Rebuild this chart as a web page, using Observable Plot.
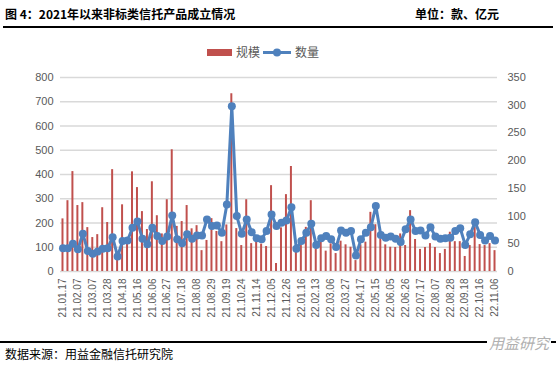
<!DOCTYPE html>
<html>
<head>
<meta charset="utf-8">
<script src="https://cdn.jsdelivr.net/npm/d3@7"></script>
<script src="https://cdn.jsdelivr.net/npm/@observablehq/plot@0.6"></script>
<style>
  body { margin: 0; background: #fff; }
  #wrap { position: relative; width: 556px; height: 369px; overflow: hidden; background: #fff;
          font-family: "Noto Sans CJK SC", "Noto Sans", sans-serif; }
  .title { position: absolute; left: 5px; top: 7px; font-size: 12px; line-height: 14px; font-weight: bold; color: #000; }
  .unit { position: absolute; left: 415px; top: 7px; font-size: 12px; line-height: 14px; font-weight: bold; color: #000; }
  .rule { position: absolute; left: 3px; width: 550px; height: 2px; background: #000; }
  .legend { position: absolute; left: 0; top: 44px; width: 556px; height: 16px; }
  .legend span { position: absolute; top: 0; font-size: 12px; line-height: 16px; color: #595959; }
  #chart { position: absolute; left: 0; top: 60px; }
  .source { position: absolute; left: 5px; top: 347px; font-size: 12px; line-height: 14px; color: #000; }
  .mark { position: absolute; left: 487px; top: 334px; font-size: 15px; line-height: 18px; color: #b0b0b0;
          font-style: italic; background: #fff; padding: 0 2px; }
</style>
</head>
<body>
<div id="wrap">
  <div class="title">图 4：2021年以来非标类信托产品成立情况</div>
  <div class="unit">单位：款、亿元</div>
  <div class="rule" style="top:26px"></div>
  <div class="legend">
    <svg width="556" height="16" style="position:absolute;left:0;top:0">
      <rect x="207" y="5" width="25" height="7" fill="#c0504d"></rect>
      <line x1="263" x2="291" y1="8.5" y2="8.5" stroke="#4f81bd" stroke-width="3"></line>
      <circle cx="277" cy="8.5" r="4" fill="#4f81bd"></circle>
    </svg>
    <span id="lg1" style="left:236px">规模</span>
    <span id="lg2" style="left:295px">数量</span>
  </div>
  <div id="chart"></div>
  <div class="rule" style="top:341px; left:0; width:556px"></div>
  <div class="source">数据来源：用益金融信托研究院</div>
  <div class="mark">用益研究</div>
</div>
<script>
// Weekly categories (every 3rd shown on the axis)
const dates = [
  "21.01.17","21.01.24","21.01.31","21.02.07","21.02.21","21.02.28","21.03.07","21.03.14","21.03.21","21.03.28",
  "21.04.04","21.04.11","21.04.18","21.04.25","21.05.09","21.05.16","21.05.23","21.05.30","21.06.06","21.06.13",
  "21.06.20","21.06.27","21.07.04","21.07.11","21.07.18","21.07.25","21.08.01","21.08.08","21.08.15","21.08.22",
  "21.08.29","21.09.05","21.09.12","21.09.19","21.09.26","21.10.17","21.10.24","21.10.31","21.11.07","21.11.14",
  "21.11.21","21.11.28","21.12.05","21.12.12","21.12.19","21.12.26","22.01.02","22.01.09","22.01.16","22.01.23",
  "22.01.30","22.02.13","22.02.20","22.02.27","22.03.06","22.03.13","22.03.20","22.03.27","22.04.03","22.04.10",
  "22.04.17","22.04.24","22.05.08","22.05.15","22.05.22","22.05.29","22.06.05","22.06.12","22.06.19","22.06.26",
  "22.07.03","22.07.10","22.07.17","22.07.24","22.07.31","22.08.07","22.08.14","22.08.21","22.08.28","22.09.04",
  "22.09.11","22.09.18","22.09.25","22.10.09","22.10.16","22.10.23","22.10.30","22.11.06"
];
// 规模 (亿元), left axis
const scaleValues = [
  217,292,412,272,284,181,140,152,263,202,
  420,60,275,130,411,346,247,173,370,230,
  155,296,502,186,206,272,176,189,86,128,
  218,165,123,192,733,177,107,296,115,125,
  113,103,354,33,180,317,433,100,107,182,
  292,93,120,84,114,74,125,110,100,45,
  110,121,244,193,134,110,100,99,155,107,
  251,132,91,99,115,99,74,91,162,123,
  123,62,107,182,111,107,115,86
];
// 数量 (款), right axis
const countValues = [
  42,42,50,40,68,37,32,36,41,42,
  62,27,55,56,79,90,59,49,79,64,
  55,63,101,58,51,67,59,65,65,94,
  82,83,70,121,298,100,68,94,71,60,
  58,73,103,82,88,92,116,41,55,70,
  86,48,60,64,58,44,74,70,73,29,
  58,70,80,118,66,61,63,59,53,76,
  94,73,74,65,80,63,59,60,61,73,
  78,48,67,89,66,56,64,56
];
const leftTicks = [0,100,200,300,400,500,600,700,800];
const rightTicks = [0,50,100,150,200,250,300,350];

const k = 800 / 350; // right axis 0–350 spans the same height as left 0–800
const data = dates.map((d, i) => ({date: d, scale: scaleValues[i], count: countValues[i]}));
const font = "'Liberation Sans', Arial, 'Noto Sans CJK SC', sans-serif";

const chart = Plot.plot({
  width: 556,
  height: 290,
  marginTop: 17,
  marginBottom: 79,
  marginLeft: 60,
  marginRight: 59,
  style: {fontFamily: font, fontSize: "11px", color: "#595959", background: "transparent"},
  x: {domain: dates, paddingInner: 0.6, paddingOuter: 0.3, label: null},
  y: {domain: [0, 800], label: null},
  marks: [
    Plot.gridY(leftTicks, {stroke: "#d9d9d9", strokeOpacity: 1, strokeWidth: 1.6}),
    Plot.barY(data, {x: "date", y: "scale", fill: "#c0504d"}),
    Plot.line(data, {x: "date", y: d => d.count * k, stroke: "#4f81bd", strokeWidth: 3}),
    Plot.dot(data, {x: "date", y: d => d.count * k, r: 4, fill: "#4f81bd"}),
    Plot.axisY(leftTicks, {anchor: "left", tickSize: 0, tickPadding: 7, label: null, fill: "#595959"}),
    Plot.axisY(rightTicks.map(v => v * k), {anchor: "right", tickSize: 0, tickPadding: 10, label: null,
      tickFormat: v => String(Math.round(v / k)), fill: "#595959"}),
    Plot.axisX(dates.filter((d, i) => i % 3 === 0), {tickRotate: -90, tickSize: 0, tickPadding: 7,
      fontSize: 10, label: null, fill: "#595959"})
  ]
});
document.getElementById("chart").appendChild(chart);
</script>
</body>
</html>
